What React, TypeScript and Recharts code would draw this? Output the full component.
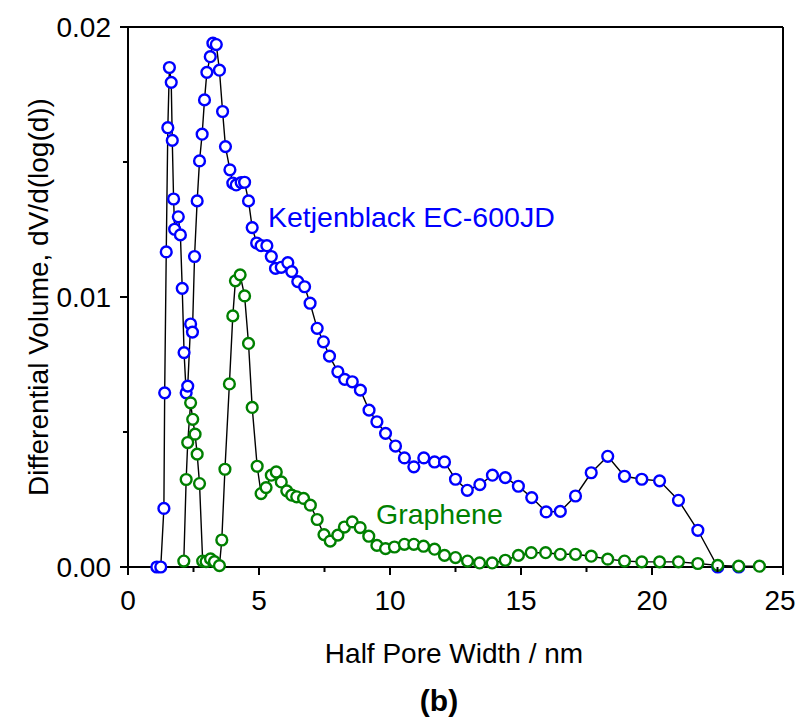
import { LineChart, Line, XAxis, YAxis, ReferenceLine } from "recharts";

// Ketjenblack EC-600JD (blue)
const ketjenX = [
  1.1, 1.25, 1.37, 1.4, 1.46, 1.52, 1.58, 1.65, 1.69, 1.74, 1.78, 1.92, 2.0, 2.07, 2.14, 2.22,
  2.28, 2.39, 2.46, 2.54, 2.64, 2.73, 2.83, 2.92, 3.01, 3.14, 3.24, 3.37, 3.49, 3.61, 3.72,
  3.89, 4.0, 4.13, 4.32, 4.45, 4.6, 4.74, 4.91, 5.08, 5.3, 5.47, 5.63, 5.85, 6.1, 6.25, 6.48,
  6.74, 6.95, 7.22, 7.46, 7.69, 8.01, 8.27, 8.56, 8.87, 9.2, 9.5, 9.83, 10.21, 10.55, 10.91,
  11.29, 11.7, 12.08, 12.5, 12.95, 13.43, 13.91, 14.4, 14.9, 15.41, 15.96, 16.5, 17.08, 17.68,
  18.31, 18.95, 19.61, 20.29, 21.01, 21.75, 22.51, 23.31,
];
const ketjenY = [
  0, 0, 0.00217, 0.00645, 0.01167, 0.01627, 0.0185, 0.01795, 0.0158, 0.01363, 0.01251, 0.01297,
  0.0123, 0.01032, 0.00794, 0.00645, 0.0067, 0.009, 0.0087, 0.0115, 0.01356, 0.01504, 0.01603,
  0.0173, 0.01832, 0.0189, 0.0194, 0.01935, 0.0184, 0.01687, 0.01557, 0.01471, 0.01422, 0.01415,
  0.01424, 0.01425, 0.01356, 0.01257, 0.012, 0.0119, 0.0119, 0.0115, 0.01106, 0.0111, 0.01127,
  0.01094, 0.01057, 0.01038, 0.00977, 0.00884, 0.00834, 0.00781, 0.00723, 0.00695, 0.00686,
  0.00655, 0.00581, 0.00538, 0.00495, 0.00448, 0.00404, 0.00371, 0.00404, 0.00389, 0.00389,
  0.00325, 0.00284, 0.00305, 0.0034, 0.00331, 0.00299, 0.00257, 0.00204, 0.00206, 0.00263,
  0.00349, 0.0041, 0.00336, 0.00325, 0.00319, 0.00247, 0.00136, 0, 0,
];

// Graphene (green)
const grapheneX = [
  2.13, 2.22, 2.28, 2.39, 2.47, 2.56, 2.64, 2.73, 2.85, 2.98, 3.15, 3.3, 3.49, 3.58, 3.7, 3.87,
  4.0, 4.1, 4.28, 4.45, 4.6, 4.74, 4.93, 5.08, 5.27, 5.47, 5.66, 5.85, 6.06, 6.25, 6.44, 6.7,
  6.96, 7.22, 7.48, 7.72, 8.01, 8.26, 8.56, 8.86, 9.19, 9.5, 9.83, 10.17, 10.55, 10.91, 11.28,
  11.7, 12.08, 12.5, 12.96, 13.42, 13.9, 14.4, 14.9, 15.39, 15.94, 16.5, 17.08, 17.68, 18.31,
  18.95, 19.61, 20.29, 21.01, 21.75, 22.51, 23.31, 24.1,
];
const grapheneY = [
  0.00022, 0.00324, 0.00461, 0.00608, 0.00547, 0.00492, 0.00418, 0.00309, 0.00022, 0.0002,
  0.0003, 0.0002, 0.00005, 0.001, 0.00362, 0.00678, 0.0093, 0.0106, 0.01082, 0.01004, 0.00828,
  0.00591, 0.00373, 0.00272, 0.00294, 0.0034, 0.00352, 0.00315, 0.00282, 0.00266, 0.0026,
  0.00254, 0.00229, 0.00176, 0.0012, 0.00096, 0.00118, 0.00148, 0.00167, 0.00146, 0.00114,
  0.0008, 0.00068, 0.00074, 0.00084, 0.00084, 0.00077, 0.00066, 0.00043, 0.00035, 0.00022,
  0.00015, 0.00015, 0.00025, 0.00043, 0.00053, 0.00053, 0.00047, 0.00047, 0.0004, 0.00029,
  0.00022, 0.00019, 0.00019, 0.00019, 0.00013, 0.00006, 0.00003, 0.00003,
];

const xTicks = [0, 2.5, 5, 7.5, 10, 12.5, 15, 17.5, 20, 22.5, 25];
const yTicks = [0, 0.005, 0.01, 0.015, 0.02];

const ketjenData = ketjenX.map((x, i) => ({ x, y: ketjenY[i] }));
const grapheneData = grapheneX.map((x, i) => ({ x, y: grapheneY[i] }));

const FONT = "'Liberation Sans', Arial, sans-serif";
const FS = 28;

const XTick = ({ x, y, payload }: any) => {
  const major = payload.value % 5 === 0;
  // keep the last label inside the page
  const lx = Math.min(x, 797 - 17);
  return (
    <g>
      <line x1={x} x2={x} y1={y} y2={y + (major ? 8 : 5)} stroke="#000" strokeWidth={2} />
      {major && (
        <text x={lx} y={y + 43} textAnchor="middle" fontFamily={FONT} fontSize={FS} fill="#000">
          {payload.value}
        </text>
      )}
    </g>
  );
};

const YTick = ({ x, y, payload }: any) => {
  const major = Math.round(payload.value * 1000) % 10 === 0;
  return (
    <g>
      <line x1={x} x2={x - (major ? 8 : 5)} y1={y} y2={y} stroke="#000" strokeWidth={2} />
      {major && (
        <text x={x - 17} y={y} dy="0.36em" textAnchor="end" fontFamily={FONT} fontSize={FS} fill="#000">
          {payload.value.toFixed(2)}
        </text>
      )}
    </g>
  );
};

export default function App() {
  return (
    <div style={{ position: "absolute", left: 0, top: 0, width: 797, height: 724, background: "#fff" }}>
      <LineChart width={797} height={724} margin={{ top: 27, right: 14, left: 0, bottom: 0 }}>
        <XAxis
          dataKey="x"
          type="number"
          domain={[0, 25]}
          ticks={xTicks}
          tick={<XTick />}
          tickLine={false}
          tickSize={0}
          tickMargin={0}
          height={157}
          stroke="#000"
          strokeWidth={2}
          interval={0}
          label={{
            content: () => (
              <text x={454} y={663} textAnchor="middle" fontFamily={FONT} fontSize={FS} fill="#000">
                Half Pore Width / nm
              </text>
            ),
          }}
        />
        <YAxis
          dataKey="y"
          type="number"
          domain={[0, 0.02]}
          ticks={yTicks}
          tick={<YTick />}
          tickLine={false}
          tickSize={0}
          tickMargin={0}
          width={128}
          stroke="#000"
          strokeWidth={2}
          interval={0}
          label={{
            content: () => (
              <text
                transform="translate(48,297) rotate(-90)"
                textAnchor="middle"
                fontFamily={FONT}
                fontSize={FS}
                fill="#000"
              >
                Differential Volume, dV/d(log(d))
              </text>
            ),
          }}
        />
        <ReferenceLine y={0.02} stroke="#000" strokeWidth={2} />
        <ReferenceLine x={25} stroke="#000" strokeWidth={2} />
        <Line
          data={ketjenData}
          dataKey="y"
          stroke="#000"
          strokeWidth={1.4}
          dot={{ r: 5.4, fill: "#fff", stroke: "#0000ff", strokeWidth: 2.4 }}
          isAnimationActive={false}
        />
        <Line
          data={grapheneData}
          dataKey="y"
          stroke="#000"
          strokeWidth={1.4}
          dot={{ r: 5.4, fill: "#fff", stroke: "#008000", strokeWidth: 2.4 }}
          isAnimationActive={false}
        />
      </LineChart>
      <div style={{ position: "absolute", left: 268, top: 200, fontFamily: FONT, fontSize: 28.5, color: "#0000ff", whiteSpace: "nowrap", lineHeight: 1.2 }}>
        Ketjenblack EC-600JD
      </div>
      <div style={{ position: "absolute", left: 376, top: 497, fontFamily: FONT, fontSize: 28.5, color: "#008000", whiteSpace: "nowrap", lineHeight: 1.2 }}>
        Graphene
      </div>
      <div style={{ position: "absolute", left: 0, width: 878, top: 683, textAlign: "center", fontFamily: FONT, fontSize: 30, fontWeight: "bold", color: "#000", lineHeight: 1.2 }}>
        (b)
      </div>
    </div>
  );
}
